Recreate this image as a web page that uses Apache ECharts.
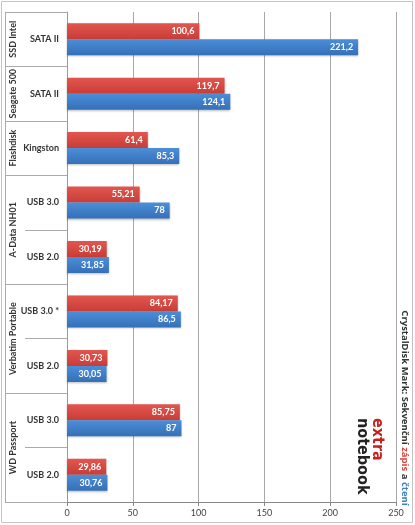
<!DOCTYPE html>
<html><head><meta charset="utf-8">
<script src="https://cdn.jsdelivr.net/npm/echarts@6/dist/echarts.min.js"></script>
<style>html,body{margin:0;padding:0;background:#fff}#c{width:415px;height:525px}</style>
</head><body><div id="c"></div>
<script>
var groups = ['SSD Intel','Seagate 500','Flashdisk','A-Data NH01','A-Data NH01','Verbatim Portable','Verbatim Portable','WD Passport','WD Passport'];
var subcats = ['SATA II','SATA II','Kingston','USB 3.0','USB 2.0','USB 3.0 *','USB 2.0','USB 3.0','USB 2.0'];
var writeVals = [100.6,119.7,61.4,55.21,30.19,84.17,30.73,85.75,29.86];
var readVals = [221.2,124.1,85.3,78,31.85,86.5,30.05,87,30.76];
var xTicks = [0,50,100,150,200,250];
var titleMain = 'CrystalDisk Mark: Sekvenční ';
var titleWrite = 'zápis';
var titleRead = 'čtení';

var cats = subcats.map(function(s,i){return i+'|'+s;});
var chart = echarts.init(document.getElementById('c'));
var FONT = 'Lato, "Open Sans", sans-serif';
var NARROW = '"Liberation Sans Narrow", Lato, sans-serif';
var TFONT = '"Open Sans", sans-serif';
function fmt(p){return String(p.value).replace('.', ',');}
function grad(top,bot){return new echarts.graphic.LinearGradient(0,0,0,1,[{offset:0,color:top},{offset:1,color:bot}]);}

var option = {
  animation:false,
  grid:{left:67,right:19,top:12,bottom:23},
  xAxis:{type:'value',min:xTicks[0],max:xTicks[xTicks.length-1],interval:50,
    axisLine:{show:true,lineStyle:{color:'#888'}},
    axisTick:{show:true,length:4,lineStyle:{color:'#888'}},
    axisLabel:{color:'#444',fontSize:9,fontFamily:FONT,margin:7},
    splitLine:{show:true,lineStyle:{color:'#a8a8a8',width:1}}},
  yAxis:{type:'category',inverse:true,data:cats,
    axisLine:{show:true,lineStyle:{color:'#999'}},
    axisTick:{show:true,length:42,lineStyle:{color:'#aaa'}},
    axisLabel:{margin:8,fontSize:9,fontWeight:'bold',color:'#333',fontFamily:FONT,
      formatter:function(v){return v.split('|')[1];}}},
  series:[
    {name:'zápis',type:'bar',data:writeVals,barWidth:16,barGap:'0%',
     itemStyle:{color:grad('#e2564f','#c83d37'),shadowColor:'rgba(0,0,0,0.25)',shadowBlur:2,shadowOffsetY:1},
     label:{show:true,position:'insideRight',distance:5,color:'#fff',fontSize:9,fontWeight:'bold',fontFamily:FONT,formatter:fmt}},
    {name:'čtení',type:'bar',data:readVals,barWidth:16,barGap:'0%',
     itemStyle:{color:grad('#4b8ed8','#3570b8'),shadowColor:'rgba(0,0,0,0.25)',shadowBlur:2,shadowOffsetY:1},
     label:{show:true,position:'insideRight',distance:5,color:'#fff',fontSize:9,fontWeight:'bold',fontFamily:FONT,formatter:fmt}}
  ]
};
chart.setOption(option);

var g = [];
g.push({type:'rect',shape:{x:1.5,y:1.5,width:411,height:521},style:{fill:'none',stroke:'#c4c4c4',lineWidth:1},silent:true});
function yOf(i){return chart.convertToPixel({yAxisIndex:0},cats[i]);}
var band = yOf(1)-yOf(0);
var topY = yOf(0)-band/2, botY = yOf(cats.length-1)+band/2;
g.push({type:'line',shape:{x1:5.5,y1:topY,x2:5.5,y2:botY},style:{stroke:'#aaa',lineWidth:1}});
var start=0;
for(var i=1;i<=groups.length;i++){
  if(i===groups.length || groups[i]!==groups[start]){
    var y0 = yOf(start)-band/2, y1 = yOf(i-1)+band/2;
    g.push({type:'line',shape:{x1:5,y1:Math.round(y0)+0.5,x2:26,y2:Math.round(y0)+0.5},style:{stroke:'#aaa',lineWidth:1}});
    g.push({type:'line',shape:{x1:5,y1:Math.round(y1)+0.5,x2:26,y2:Math.round(y1)+0.5},style:{stroke:'#aaa',lineWidth:1}});
    g.push({type:'text',x:13,y:(y0+y1)/2,rotation:Math.PI/2,
      style:{text:'{g|'+groups[start]+'}',align:'center',verticalAlign:'middle',
        rich:{g:{fontSize:9,fontWeight:'bold',fill:'#333',fontFamily:NARROW}}}});
    start=i;
  }
}
g.push({type:'text',x:405,y:408,rotation:-Math.PI/2,
  style:{text:'{a|'+titleMain+'}{r|'+titleWrite+'}{a| a }{b|'+titleRead+'}',align:'center',verticalAlign:'middle',
    rich:{a:{fontSize:9.5,fontWeight:'bold',fill:'#333',fontFamily:TFONT},
          r:{fontSize:9.5,fontWeight:'bold',fill:'#d9463f',fontFamily:TFONT},
          b:{fontSize:9.5,fontWeight:'bold',fill:'#3d7fc9',fontFamily:TFONT}}}});
g.push({type:'text',x:377,y:418,rotation:-Math.PI/2,
  style:{text:'extra',fill:'#c8201c',fontSize:16,fontWeight:'bold',fontFamily:'"DejaVu Sans Condensed", sans-serif',align:'left',verticalAlign:'middle'}});
g.push({type:'text',x:362,y:418,rotation:-Math.PI/2,
  style:{text:'notebook',fill:'#222',fontSize:16,fontWeight:'bold',fontFamily:'"DejaVu Sans Condensed", sans-serif',align:'left',verticalAlign:'middle'}});
chart.setOption({graphic:g});
</script></body></html>
